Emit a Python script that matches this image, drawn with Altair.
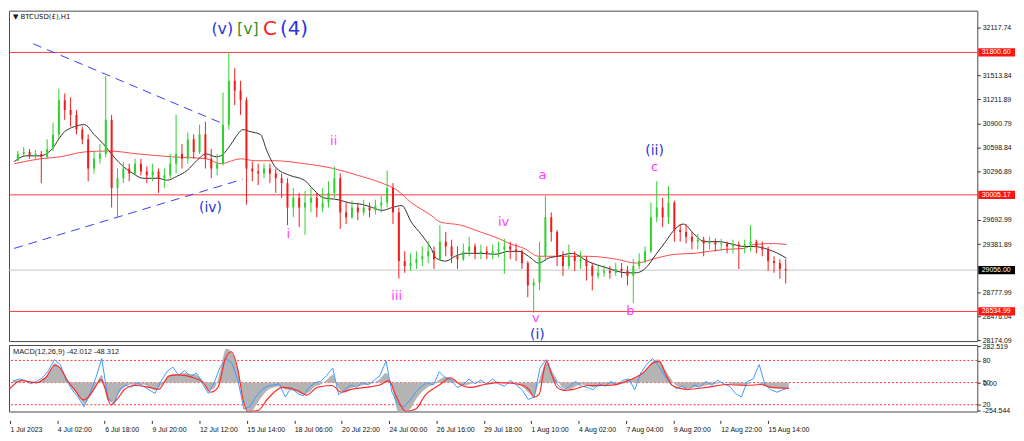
import altair as alt
import pandas as pd

# ---------------- price candles (each candle = 8 hourly bars) ----------------
first_open = 30435
closes = [30521, 30546, 30497, 30521, 30484, 30583, 30767, 31197, 31074, 31013,
          30828, 30705, 30337, 30460, 30521, 30951, 30091, 30214, 30337, 30275,
          30398, 30300, 30251, 30300, 30214, 30251, 30398, 30521, 30460, 30705,
          30546, 30767, 30460, 30337, 30398, 30890, 31443, 31320, 31197, 30337,
          30300, 30275, 30337, 30275, 30214, 30153, 29845, 29968, 29845, 29907,
          29968, 29845, 29907, 30030, 30214, 29784, 29723, 29845, 29784, 29845,
          29809, 29870, 29907, 30091, 29784, 29170, 29108, 29145, 29194, 29231,
          29293, 29194, 29415, 29354, 29231, 29194, 29293, 29354, 29268, 29293,
          29268, 29293, 29317, 29354, 29317, 29293, 29145, 28863, 28900, 29231,
          29723, 29538, 29231, 29108, 29231, 29170, 29194, 29108, 28985, 29022,
          29047, 29022, 29071, 29047, 28985, 29108, 29170, 29293, 29723, 29845,
          29723, 29907, 29563, 29538, 29477, 29415, 29440, 29391, 29415, 29379,
          29391, 29354, 29379, 29354, 29379, 29415, 29354, 29317, 29170, 29145,
          29071, 29056]
highs = [30558, 30607, 30583, 30570, 30558, 30705, 30914, 31344, 31283, 31234,
         31074, 30865, 30767, 30546, 30644, 31504, 31013, 30337, 30423, 30398,
         30460, 30460, 30361, 30398, 30337, 30337, 30521, 31013, 30644, 30791,
         30767, 30890, 30927, 30583, 30521, 31295, 31800, 31602, 31443, 31234,
         30423, 30398, 30398, 30398, 30337, 30275, 30214, 30091, 30030, 30054,
         30091, 30030, 30091, 30177, 30361, 30275, 29907, 29931, 29907, 29944,
         29907, 29944, 29993, 30312, 30153, 29845, 29293, 29268, 29293, 29354,
         29415, 29354, 29624, 29538, 29440, 29354, 29391, 29477, 29391, 29379,
         29354, 29379, 29415, 29452, 29415, 29391, 29317, 29170, 28949, 29415,
         29993, 29784, 29563, 29293, 29379, 29293, 29293, 29231, 29145, 29108,
         29121, 29108, 29145, 29145, 29108, 29194, 29268, 29354, 29907, 30177,
         29968, 30116, 29931, 29637, 29637, 29538, 29514, 29477, 29477, 29452,
         29452, 29415, 29440, 29415, 29440, 29624, 29440, 29415, 29354, 29231,
         29194, 29194]
lows = [30435, 30484, 30460, 30460, 30153, 30460, 30558, 30705, 30951, 30865,
        30767, 30644, 30177, 30275, 30398, 30480, 29845, 29723, 30153, 30177,
        30251, 30251, 30153, 30177, 30030, 30091, 30214, 30275, 30337, 30398,
        30460, 30521, 30337, 30214, 30251, 30374, 30828, 31135, 31013, 29882,
        30177, 30128, 30214, 30153, 30030, 29968, 29624, 29723, 29600, 29501,
        29784, 29723, 29784, 29845, 29968, 29575, 29637, 29700, 29686, 29747,
        29723, 29759, 29784, 29845, 29637, 28949, 29022, 29047, 29071, 29108,
        29145, 29071, 29170, 29231, 29145, 29071, 29170, 29231, 29194, 29194,
        29194, 29194, 29219, 29010, 29194, 29170, 29071, 28715, 28519, 28801,
        29170, 29415, 29108, 28985, 29071, 29047, 29071, 28924, 28801, 28949,
        28973, 28949, 28985, 28961, 28863, 28641, 29071, 29145, 29268, 29661,
        29600, 29637, 29415, 29415, 29391, 29317, 29317, 29231, 29317, 29293,
        29293, 29268, 29268, 29071, 29268, 29293, 29268, 29231, 29047, 29022,
        28949, 28887]

# ---------------- moving averages (hour-bar index, price) ----------------
fast_bar = [-1, 15, 35, 48, 68, 81, 95, 108, 121, 135, 148, 161, 175, 195, 208, 221, 235, 248, 261, 275,
            281, 295, 304, 311, 321, 335, 344, 355, 375, 395, 408, 421, 441, 455, 475, 488, 501, 515, 528, 541,
            555, 568, 575, 588, 601, 615, 635, 655, 675, 688, 701, 715, 728, 741, 761, 781, 808, 835, 848, 861,
            875, 888, 901, 912, 928, 941, 961, 981, 995, 1008, 1028, 1041, 1053]
fast_val = [30423, 30497, 30497, 30558, 30803, 30865, 30890, 30767, 30644, 30484, 30361, 30275, 30214, 30214, 30190, 30239, 30312, 30435, 30521, 30484,
            30497, 30644, 30767, 30828, 30803, 30767, 30558, 30361, 30251, 30190, 30067, 29968, 29944, 29907, 29882, 29845, 29809, 29845, 29870, 29661,
            29501, 29330, 29207, 29170, 29231, 29268, 29268, 29256, 29293, 29293, 29231, 29145, 29207, 29231, 29268, 29170, 29084, 29022, 29022, 29084,
            29256, 29415, 29575, 29637, 29501, 29415, 29415, 29379, 29354, 29354, 29317, 29268, 29207]
slow_bar = [-1, 35, 61, 95, 128, 168, 215, 261, 281, 308, 328, 355, 395, 435, 468, 501, 521, 541, 568, 581,
            608, 635, 661, 675, 695, 715, 741, 781, 821, 848, 875, 901, 928, 968, 995, 1008, 1035, 1053]
slow_val = [30398, 30460, 30484, 30546, 30558, 30521, 30484, 30460, 30398, 30460, 30435, 30435, 30398, 30337, 30251, 30153, 30067, 29907, 29747, 29661,
            29624, 29538, 29452, 29391, 29330, 29231, 29231, 29231, 29194, 29145, 29207, 29256, 29268, 29317, 29330, 29379, 29391, 29379]

# ---------------- MACD panel ----------------
macd_hist = [24, 16, 0, 8, -8, 32, 64, 160, 120, 40,
             -48, -96, -176, -120, -24, 64, -144, -160, -80, -32,
             -16, -24, -16, -40, -64, -24, 40, 72, 72, 80,
             72, 64, 24, -64, -48, 96, 280, 250, 96, -160,
             -256, -192, -120, -64, -40, -32, -56, -64, -80, -96,
             -80, -32, -16, 24, 64, -48, -80, -48, -32, -24,
             -16, 0, 32, 80, -40, -240, -280, -224, -144, -80,
             -40, -16, 24, 48, 40, 0, -24, -16, 0, 8,
             0, 8, 8, 0, 8, -8, -32, -80, -112, 40,
             160, 96, 16, -48, -56, -32, -16, -24, -40, -32,
             -24, -16, -8, 8, 24, 32, 64, 112, 176, 192,
             120, 40, -24, -40, -48, -40, -32, -24, -16, -8,
             0, -8, -16, -24, -16, 0, -8, -24, -40, -48,
             -48, -42]
macd_blue = [10, 30, 20, -10, 10, 40, 100, 190, 150, 20,
             -60, -120, -200, -90, 40, 200, -120, -180, -60, -20,
             -40, 0, -30, -60, -90, 10, 90, 130, 60, 100,
             50, 80, -10, -90, 0, 130, 200, 160, 20, -220,
             -200, -120, -60, -30, -20, -10, -120, -40, -90, -110,
             -40, 0, 10, 60, 120, -100, -60, -20, -40, 0,
             -20, 20, 60, 180, -80, -180, -200, -150, -80, -30,
             0, -20, 90, 40, 20, -40, -20, 30, -10, 20,
             -10, 30, -10, -30, 20, -20, -60, -140, -120, 120,
             190, 60, -20, -60, -30, 10, -30, -40, -60, -10,
             -30, 10, -20, 20, 30, -60, 80, 150, 200, 140,
             60, -10, -50, -30, -60, -20, -40, 10, -20, 20,
             -10, -30, -90, -120, 10, 30, 150, -20, -60, -80,
             -60, -45]
sig_bar = [-1, 15, 35, 48, 61, 68, 77, 88, 99, 108, 115, 123, 128, 136, 144, 155, 168, 188, 201, 215,
           228, 248, 261, 271, 281, 291, 299, 308, 315, 321, 335, 348, 368, 388, 401, 415, 435, 448, 461, 481,
           501, 512, 521, 535, 548, 561, 581, 595, 608, 621, 641, 661, 688, 701, 708, 715, 721, 725, 732, 739,
           748, 761, 781, 808, 835, 855, 868, 877, 885, 895, 915, 941, 968, 995, 1015, 1028, 1052]
sig_val = [-56, 16, 0, 40, 144, 120, 24, -64, -144, -104, -40, 24, -40, -184, -144, -56, -24, -40, -56, 56,
           64, 40, 0, -80, -40, 200, 256, 104, -144, -240, -232, -136, -40, -64, -104, -40, -24, -80, -56, -40,
           -16, 16, -104, -240, -220, -104, -16, 40, -16, -40, -16, 0, -16, -56, -120, -96, 96, 176, 64, -40,
           -64, -56, -24, -24, 16, 80, 160, 176, 80, -24, -56, -40, -16, -24, -16, -40, -48]
macd_levels = [184, 0, -184]

# ---------------- levels, ticks, labels ----------------
level_prices = [31800.60, 30005.17, 28534.99]
bid_price = 29056.00
price_ticks = [32117.74, 31513.84, 31211.89, 30900.79, 30598.84, 30296.89,
               29692.99, 29381.89, 28777.99, 28476.04, 28174.09]
x_tick_pos = [0, 64, 128, 192, 256, 320, 384, 448, 512, 576, 640, 704, 768, 832, 896, 960, 1024]
x_tick_labels = ["1 Jul 2023", "4 Jul 02:00", "6 Jul 18:00", "9 Jul 20:00", "12 Jul 12:00",
                 "15 Jul 14:00", "18 Jul 06:00", "20 Jul 22:00", "24 Jul 00:00", "26 Jul 16:00",
                 "29 Jul 18:00", "1 Aug 10:00", "4 Aug 02:00", "7 Aug 04:00", "9 Aug 20:00",
                 "12 Aug 22:00", "15 Aug 14:00"]

BLUE = "#2a35dc"
MAG = "#ff3cff"
wave_text = ["(v)", "[v]", "C", "(4)", "(iv)", "i", "ii", "iii", "iv", "v", "a", "(i)", "b", "c", "(ii)"]
wave_bar = [283, 318, 348, 381, 267, 373, 435, 521, 667, 711, 720, 713, 840, 873, 873]
wave_price = [32094, 32094, 32094, 32094, 29845, 29514, 30681, 28727, 29661, 28457, 30251, 28236, 28543, 30350, 30560]
wave_color = [BLUE, "#3c8f28", "#ff1a1a", BLUE, BLUE, MAG, MAG, MAG, MAG, MAG, MAG, BLUE, MAG, MAG, BLUE]
wave_size = [16, 16, 20, 20, 14, 13, 13, 13, 13, 13, 13, 14, 13, 13, 14]

tri_seg = ["upper", "upper", "lower", "lower"]
tri_bar = [25, 281, -1, 311]
tri_price = [31910, 30914, 29330, 30202]

# ---------------- build tables ----------------
candle_bar = [8 * i + 4 for i in range(len(closes))]
opens = [first_open] + closes[:-1]
candles = pd.DataFrame({"bar": candle_bar, "open": opens, "high": highs, "low": lows, "close": closes})
fast_df = pd.DataFrame({"bar": fast_bar, "v": fast_val})
slow_df = pd.DataFrame({"bar": slow_bar, "v": slow_val})
macd_df = pd.DataFrame({"bar": candle_bar, "hist": macd_hist, "blue": macd_blue})
sig_df = pd.DataFrame({"bar": sig_bar, "v": sig_val})
lev_df = pd.DataFrame({"price": level_prices,
                       "label": [f"{p:.2f}" for p in level_prices],
                       "lo": [p - 52 for p in level_prices],
                       "hi": [p + 52 for p in level_prices]})
bid_df = pd.DataFrame({"price": [bid_price], "label": [f"{bid_price:.2f}"],
                       "lo": [bid_price - 52], "hi": [bid_price + 52]})
wave_df = pd.DataFrame({"t": wave_text, "bar": wave_bar, "price": wave_price,
                        "c": wave_color, "s": wave_size})
tri_df = pd.DataFrame({"seg": tri_seg, "bar": tri_bar, "price": tri_price})
mlev_df = pd.DataFrame({"v": macd_levels})

W, H1, H2 = 976, 333, 67
GREEN, RED = "#2fd02f", "#f21b1b"

xs = alt.Scale(domain=[-1.3, 1306.7], nice=False, zero=False)
ys = alt.Scale(domain=[28162, 32327], nice=False, zero=False)
ms = alt.Scale(domain=[-240, 312], nice=False, zero=False)

PAX = alt.Axis(orient="right", values=price_ticks, format=".2f", title=None, tickSize=3,
               labelOverlap=False, labelPadding=2, labelFontSize=7)
XP = alt.X("bar:Q", scale=xs, axis=None)
col = alt.condition("datum.close >= datum.open", alt.value(GREEN), alt.value(RED))

def YP(field):
    return alt.Y(field, scale=ys, axis=PAX)

wick = alt.Chart(candles).mark_rule(strokeWidth=1).encode(XP, y=YP("low:Q"), y2="high:Q", color=col)
body = alt.Chart(candles).mark_bar(size=2).encode(XP, y=YP("open:Q"), y2="close:Q", color=col)
lev = alt.Chart(lev_df).mark_rule(color="#ff3a3a", strokeWidth=1).encode(y=YP("price:Q"))
bid = alt.Chart(bid_df).mark_rule(color="#c4c4c4", strokeWidth=1).encode(y=YP("price:Q"))
slow = alt.Chart(slow_df).mark_line(color="#ff4a4a", strokeWidth=1, interpolate="monotone").encode(XP, y=YP("v:Q"))
fast = alt.Chart(fast_df).mark_line(color="#303030", strokeWidth=1, interpolate="monotone").encode(XP, y=YP("v:Q"))
tri = alt.Chart(tri_df).mark_line(color="#3b3bff", strokeWidth=1, strokeDash=[9, 6]).encode(
    XP, y=YP("price:Q"), detail="seg:N")
waves = alt.Chart(wave_df).mark_text(font="DejaVu Sans", baseline="middle", align="center").encode(
    XP, y=YP("price:Q"), text="t:N", color=alt.Color("c:N", scale=None), size=alt.Size("s:Q", scale=None))
box = alt.Chart(lev_df).mark_rect(color="#ff1414").encode(
    x=alt.value(W + 1), x2=alt.value(W + 38), y=YP("lo:Q"), y2="hi:Q")
boxt = alt.Chart(lev_df).mark_text(color="white", fontSize=7, font="Liberation Sans", align="center",
                                   baseline="middle").encode(x=alt.value(W + 19), y=YP("price:Q"), text="label:N")
bbox = alt.Chart(bid_df).mark_rect(color="#000000").encode(
    x=alt.value(W + 1), x2=alt.value(W + 38), y=YP("lo:Q"), y2="hi:Q")
bboxt = alt.Chart(bid_df).mark_text(color="white", fontSize=7, font="Liberation Sans", align="center",
                                    baseline="middle").encode(x=alt.value(W + 19), y=YP("price:Q"), text="label:N")
title = alt.Chart(pd.DataFrame({"t": ["\u25bc BTCUSD(\u00a3),H1"]})).mark_text(
    font="DejaVu Sans", fontSize=7, align="left", baseline="middle", color="#111").encode(
    x=alt.value(4), y=alt.value(6), text="t:N")

price = alt.layer(lev, bid, slow, fast, tri, wick, body, waves, box, boxt, bbox, bboxt, title).properties(
    width=W, height=H1)

# ---------------- MACD ----------------
XAX = alt.Axis(values=x_tick_pos, title=None, labelAlign="left", labelPadding=2, tickSize=3, offset=9,
               labelOverlap=False, labelFlush=False, labelFontSize=7,
               labelExpr="%s[round(datum.value / 64)]" % str(x_tick_labels))
MAX = alt.Axis(orient="right", values=[300, 184, 0, -184, -232], title=None, tickSize=3,
               labelOverlap=False, labelPadding=2, labelFontSize=7,
               labelExpr="datum.value == 300 ? '282.519' : datum.value == 184 ? '80' : datum.value == 0 ? '50' : datum.value == -184 ? '20' : '-254.544'")
XM = alt.X("bar:Q", scale=xs, axis=XAX)

def YM(field):
    return alt.Y(field, scale=ms, axis=MAX)

hist = alt.Chart(macd_df).mark_area(color="#b4b4b4", clip=True, interpolate="monotone").encode(
    XM, y=YM("hist:Q"), y2=alt.datum(0))
mlev = alt.Chart(mlev_df).mark_rule(color="#ff3030", strokeDash=[2, 2], strokeWidth=1).encode(y=YM("v:Q"))
blue = alt.Chart(macd_df).mark_line(color="#3d9bff", strokeWidth=1, clip=True).encode(XM, y=YM("blue:Q"))
sig = alt.Chart(sig_df).mark_line(color="#ff2a2a", strokeWidth=1.2, clip=True, interpolate="monotone").encode(
    XM, y=YM("v:Q"))
mtitle = alt.Chart(pd.DataFrame({"t": ["MACD(12,26,9) -42.012 -48.312"]})).mark_text(
    font="Liberation Sans", fontSize=7.5, align="left", baseline="middle", color="#222").encode(
    x=alt.value(4), y=alt.value(7), text="t:N")
zero_lbl = alt.Chart(pd.DataFrame({"t": ["0.00"], "v": [0]})).mark_text(
    font="Liberation Sans", fontSize=7, align="left", baseline="middle", color="#222", dy=1).encode(
    x=alt.value(W + 6), y=YM("v:Q"), text="t:N")

macd = alt.layer(mlev, hist, blue, sig, mtitle, zero_lbl).properties(width=W, height=H2)

chart = alt.vconcat(price, macd, spacing=4, bounds="flush").properties(
    padding={"left": 0, "top": 0, "right": 0, "bottom": 0}
).configure(background="white").configure_view(stroke="#4a4a4a", strokeWidth=1).configure_axis(
    labelFont="Liberation Sans", labelColor="#111", tickColor="#333", domain=False, grid=False)

chart.save("out.html", embed_options={"renderer": "svg", "actions": False})
